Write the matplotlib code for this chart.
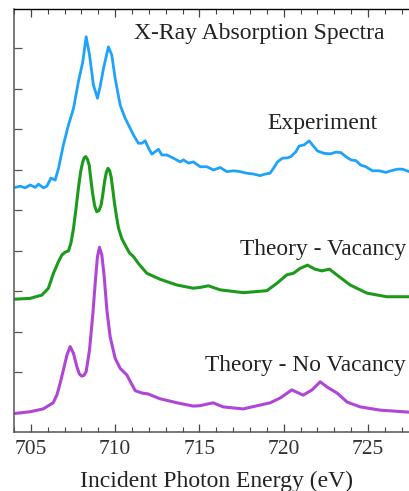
import numpy as np
import matplotlib
matplotlib.use("Agg")
import matplotlib.pyplot as plt

plt.rcParams["font.family"] = ["Liberation Serif", "DejaVu Serif"]

# experiment (offset already in curve)
exp_e = [704.07, 704.37, 704.66, 704.96, 705.26, 705.45, 705.75, 705.95, 706.19, 706.44,
         706.64, 706.93, 707.23, 707.53, 707.82, 708.08, 708.28, 708.48, 708.71, 708.87,
         708.95, 709.11, 709.31, 709.60, 709.80, 710.00, 710.30, 710.59, 710.89, 711.09,
         711.38, 711.58, 711.78, 711.98, 712.18, 712.37, 712.57, 712.77, 713.07, 713.46,
         713.86, 714.05, 714.35, 714.64, 715.04, 715.44, 715.83, 716.23, 716.63, 717.02,
         717.41, 717.81, 718.20, 718.60, 718.90, 719.19, 719.39, 719.63, 719.92, 720.22,
         720.42, 720.72, 720.91, 721.21, 721.51, 721.70, 722.00, 722.40, 722.79, 723.09,
         723.39, 723.68, 723.98, 724.28, 724.57, 724.87, 725.26, 725.66, 726.06, 726.35,
         726.74, 727.04, 727.44]
exp_y = [5.57, 5.60, 5.56, 5.63, 5.57, 5.65, 5.56, 5.60, 5.80, 5.75,
         6.04, 6.62, 7.11, 7.52, 8.18, 8.67, 9.29, 8.84, 8.10, 7.89,
         7.77, 8.06, 8.51, 9.04, 8.84, 8.26, 7.60, 7.28, 7.03, 6.86,
         6.66, 6.66, 6.72, 6.54, 6.39, 6.45, 6.51, 6.37, 6.37, 6.29,
         6.20, 6.25, 6.17, 6.20, 6.08, 6.08, 6.00, 6.06, 5.96, 5.98,
         5.96, 5.92, 5.90, 5.86, 5.90, 5.92, 6.04, 6.20, 6.29, 6.30,
         6.33, 6.45, 6.59, 6.62, 6.72, 6.62, 6.47, 6.41, 6.40, 6.44,
         6.43, 6.33, 6.25, 6.23, 6.12, 6.08, 5.98, 5.98, 5.94, 5.98,
         6.02, 6.02, 5.96]

# theory with vacancy
vac_e = [704.07, 704.96, 705.65, 706.04, 706.34, 706.64, 706.84, 707.03, 707.23, 707.38,
         707.53, 707.68, 707.82, 707.95, 708.06, 708.16, 708.26, 708.36, 708.46, 708.55,
         708.65, 708.78, 708.91, 709.04, 709.17, 709.27, 709.37, 709.47, 709.57, 709.67,
         709.76, 709.86, 709.96, 710.08, 710.20, 710.40, 710.59, 710.85, 711.09, 711.40,
         711.88, 712.67, 713.66, 714.64, 715.04, 715.53, 716.23, 717.61, 719.00, 719.59,
         720.18, 720.58, 720.97, 721.41, 721.86, 722.26, 722.71, 723.15, 723.94, 724.93,
         726.11, 727.44]
vac_y = [2.81, 2.83, 2.91, 3.08, 3.45, 3.74, 3.90, 3.97, 4.00, 4.20,
         4.56, 5.05, 5.55, 5.95, 6.17, 6.30, 6.33, 6.26, 6.12, 5.80,
         5.46, 5.12, 4.97, 5.00, 5.14, 5.40, 5.71, 5.93, 6.04, 5.99,
         5.83, 5.52, 5.18, 4.85, 4.56, 4.30, 4.15, 3.95, 3.86, 3.68,
         3.45, 3.30, 3.16, 3.08, 3.10, 3.14, 3.04, 2.97, 3.02, 3.20,
         3.41, 3.45, 3.57, 3.65, 3.55, 3.51, 3.55, 3.41, 3.16, 2.96,
         2.87, 2.87]

# theory without vacancy
novac_e = [704.07, 704.96, 705.73, 706.32, 706.55, 706.74, 706.93, 707.14, 707.33, 707.53,
           707.73, 707.88, 708.02, 708.15, 708.28, 708.48, 708.68, 708.83, 708.95, 709.07,
           709.21, 709.35, 709.51, 709.70, 710.00, 710.30, 710.69, 711.00, 711.19, 711.60,
           711.96, 712.30, 712.67, 713.68, 714.63, 715.04, 715.46, 715.81, 716.41, 717.59,
           719.19, 719.79, 720.48, 721.15, 721.68, 722.16, 722.57, 723.17, 723.76, 724.53,
           725.72, 727.44]
novac_y = [-0.01, 0.03, 0.10, 0.25, 0.45, 0.74, 1.06, 1.43, 1.64, 1.47,
           1.14, 0.96, 0.91, 0.93, 1.02, 1.56, 2.46, 3.28, 3.86, 4.09,
           3.90, 3.37, 2.54, 1.89, 1.35, 1.10, 0.94, 0.70, 0.55, 0.49,
           0.47, 0.41, 0.35, 0.25, 0.17, 0.18, 0.22, 0.25, 0.15, 0.10,
           0.25, 0.37, 0.57, 0.44, 0.57, 0.77, 0.64, 0.49, 0.27, 0.15,
           0.07, 0.02]

fig = plt.figure(figsize=(4.09, 4.91), dpi=100)
ax = fig.add_axes([14 / 409, 59 / 491, 404.6 / 409, 423 / 491])

line_kw = dict(solid_joinstyle="round", solid_capstyle="round")
ax.plot(exp_e, exp_y, color="#1ea2fa", lw=2.0, **line_kw)
ax.plot(vac_e, vac_y, color="#1c9a1c", lw=2.2, **line_kw)
ax.plot(novac_e, novac_y, color="#b046d8", lw=2.2, **line_kw)

ax.set_xlim(704, 728)
ax.set_ylim(-0.47, 9.975)

ax.set_xticks(np.arange(705, 729, 5))
ax.set_xticks(np.arange(704, 729, 1), minor=True)
ax.set_yticks(np.arange(0, 10, 1))
ax.set_yticklabels([])

ax.tick_params(axis="x", which="major", direction="in", length=6, width=0.9,
               top=True, labelsize=15.5, pad=6, colors="#444444", labelcolor="#333333")
ax.tick_params(axis="x", which="minor", direction="in", length=3.5, width=0.8,
               top=True, colors="#444444")
ax.tick_params(axis="y", direction="in", length=5.5, width=0.9, colors="#555555")

for side in ["left", "bottom"]:
    ax.spines[side].set_color("#555555")
    ax.spines[side].set_linewidth(1.1)
ax.spines["top"].set_color("black")
ax.spines["top"].set_linewidth(1.0)
ax.spines["right"].set_visible(False)

ax.set_xlabel("Incident Photon Energy (eV)", fontsize=17, color="#222222", labelpad=8)

fig.text(259 / 409, 1 - 34 / 491, "X-Ray Absorption Spectra", fontsize=17,
         ha="center", va="center", color="#222222")
fig.text(322 / 409, 1 - 123 / 491, "Experiment", fontsize=17,
         ha="center", va="center", color="#222222")
fig.text(406 / 409, 1 - 255 / 491, "Theory - Vacancy", fontsize=16.8,
         ha="right", va="baseline", color="#222222")
fig.text(406 / 409, 1 - 371 / 491, "Theory - No Vacancy", fontsize=16.8,
         ha="right", va="baseline", color="#222222")

fig.savefig("out.png", dpi=100)
